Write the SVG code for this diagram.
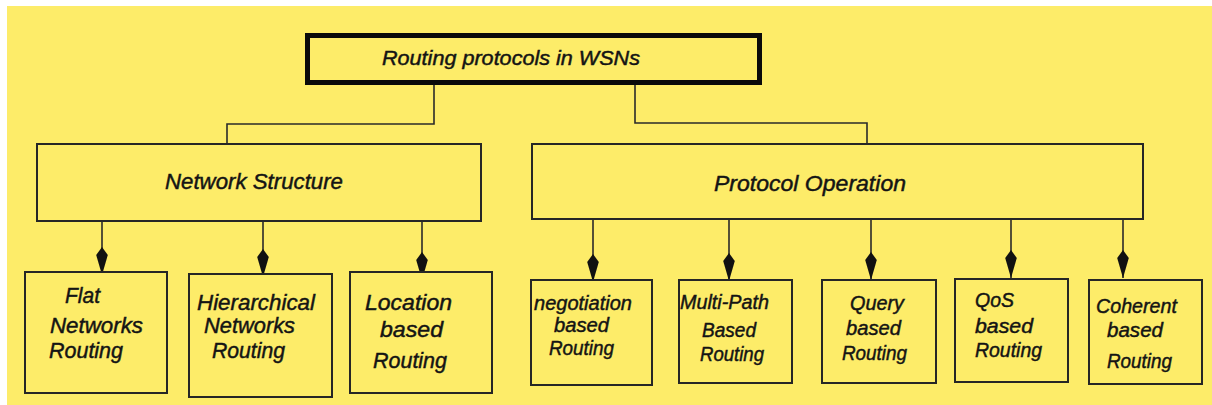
<svg xmlns="http://www.w3.org/2000/svg" width="1212" height="405" viewBox="0 0 1212 405">
  <style>
    .bg { fill: #fdec69; }
    .box { fill: #fdec69; stroke: #262626; stroke-width: 2; }
    .root { fill: #fdec69; stroke: #0a0a0a; stroke-width: 5; }
    .wire { fill: none; stroke: #2a2a2a; stroke-width: 1.6; }
    .arrow { fill: none; stroke: #2a2a2a; stroke-width: 1.6; marker-end: url(#head); }
    text { font-family: "Liberation Sans", Arial, sans-serif; font-style: italic; fill: #141414; stroke: #141414; stroke-width: 0.45; }
    .t1 { font-size: 20px; }
    .t2 { font-size: 22px; }
    .t3 { font-size: 22px; }
    .t4 { font-size: 20px; }
  </style>
  <defs>
    <!-- kite-shaped arrowhead, tip at the end of the line -->
    <marker id="head" markerUnits="userSpaceOnUse" markerWidth="32" markerHeight="14" viewBox="-31 -7 32 14" refX="0" refY="0" orient="auto">
      <path d="M0,0 L-20,-5.8 L-28,0 L-20,5.8 Z" fill="#111"/>
    </marker>
  </defs>

  <!-- page background -->
  <rect class="bg" x="7" y="6" width="1205" height="399"/>

  <!-- connectors -->
  <g id="connectors">
    <polyline class="wire" points="434,85 434,124 227,124 227,144"/>
    <polyline class="wire" points="635,85 635,123 867,123 867,144"/>
    <line class="arrow" x1="102" y1="221" x2="102" y2="275"/>
    <line class="arrow" x1="263" y1="221" x2="263" y2="277"/>
    <line class="arrow" x1="422" y1="221" x2="422" y2="280"/>
    <line class="arrow" x1="593" y1="219" x2="593" y2="282"/>
    <line class="arrow" x1="729" y1="219" x2="729" y2="281"/>
    <line class="arrow" x1="871" y1="219" x2="871" y2="280"/>
    <line class="arrow" x1="1011" y1="219" x2="1011" y2="278"/>
    <line class="arrow" x1="1123" y1="219" x2="1123" y2="278"/>
  </g>

  <!-- root -->
  <g id="root">
    <rect class="root" x="307.5" y="35.5" width="452" height="47"/>
    <text class="t1" x="382" y="65" textLength="258" lengthAdjust="spacingAndGlyphs">Routing protocols in WSNs</text>
  </g>

  <!-- second level -->
  <g id="network-structure">
    <rect class="box" x="37" y="144" width="444" height="77"/>
    <text class="t2" x="165" y="189" textLength="178" lengthAdjust="spacingAndGlyphs">Network Structure</text>
  </g>
  <g id="protocol-operation">
    <rect class="box" x="532" y="144" width="611" height="75"/>
    <text class="t2" x="714" y="191" textLength="192" lengthAdjust="spacingAndGlyphs">Protocol Operation</text>
  </g>

  <!-- leaves under Network Structure -->
  <g id="flat">
    <rect class="box" x="25" y="272" width="142" height="121"/>
    <text class="t3" x="65" y="303" textLength="35" lengthAdjust="spacingAndGlyphs">Flat</text>
    <text class="t3" x="50" y="333" textLength="93" lengthAdjust="spacingAndGlyphs">Networks</text>
    <text class="t3" x="49" y="358" textLength="74" lengthAdjust="spacingAndGlyphs">Routing</text>
  </g>
  <g id="hierarchical">
    <rect class="box" x="189" y="274" width="143" height="123"/>
    <text class="t3" x="197" y="310" textLength="118" lengthAdjust="spacingAndGlyphs">Hierarchical</text>
    <text class="t3" x="204" y="333" textLength="91" lengthAdjust="spacingAndGlyphs">Networks</text>
    <text class="t3" x="212" y="358" textLength="73" lengthAdjust="spacingAndGlyphs">Routing</text>
  </g>
  <g id="location">
    <rect class="box" x="350" y="272" width="142" height="121"/>
    <text class="t3" x="365" y="310" textLength="87" lengthAdjust="spacingAndGlyphs">Location</text>
    <text class="t3" x="380" y="337" textLength="63" lengthAdjust="spacingAndGlyphs">based</text>
    <text class="t3" x="373" y="368" textLength="74" lengthAdjust="spacingAndGlyphs">Routing</text>
  </g>

  <!-- leaves under Protocol Operation -->
  <g id="negotiation">
    <rect class="box" x="531" y="280" width="121" height="105"/>
    <text class="t4" x="534" y="310" textLength="98" lengthAdjust="spacingAndGlyphs">negotiation</text>
    <text class="t4" x="554" y="332" textLength="55" lengthAdjust="spacingAndGlyphs">based</text>
    <text class="t4" x="549" y="355" textLength="65" lengthAdjust="spacingAndGlyphs">Routing</text>
  </g>
  <g id="multipath">
    <rect class="box" x="679" y="280" width="113" height="103"/>
    <text class="t4" x="680" y="309" textLength="89" lengthAdjust="spacingAndGlyphs">Multi-Path</text>
    <text class="t4" x="702" y="337" textLength="54" lengthAdjust="spacingAndGlyphs">Based</text>
    <text class="t4" x="700" y="361" textLength="64" lengthAdjust="spacingAndGlyphs">Routing</text>
  </g>
  <g id="query">
    <rect class="box" x="822" y="280" width="114" height="103"/>
    <text class="t4" x="850" y="310" textLength="54" lengthAdjust="spacingAndGlyphs">Query</text>
    <text class="t4" x="846" y="335" textLength="55" lengthAdjust="spacingAndGlyphs">based</text>
    <text class="t4" x="842" y="360" textLength="65" lengthAdjust="spacingAndGlyphs">Routing</text>
  </g>
  <g id="qos">
    <rect class="box" x="955" y="279" width="113" height="103"/>
    <text class="t4" x="975" y="307" textLength="39" lengthAdjust="spacingAndGlyphs">QoS</text>
    <text class="t4" x="975" y="333" textLength="58" lengthAdjust="spacingAndGlyphs">based</text>
    <text class="t4" x="975" y="357" textLength="67" lengthAdjust="spacingAndGlyphs">Routing</text>
  </g>
  <g id="coherent">
    <rect class="box" x="1089" y="280" width="113" height="104"/>
    <text class="t4" x="1096" y="313" textLength="81" lengthAdjust="spacingAndGlyphs">Coherent</text>
    <text class="t4" x="1107" y="337" textLength="56" lengthAdjust="spacingAndGlyphs">based</text>
    <text class="t4" x="1107" y="368" textLength="65" lengthAdjust="spacingAndGlyphs">Routing</text>
  </g>
</svg>
